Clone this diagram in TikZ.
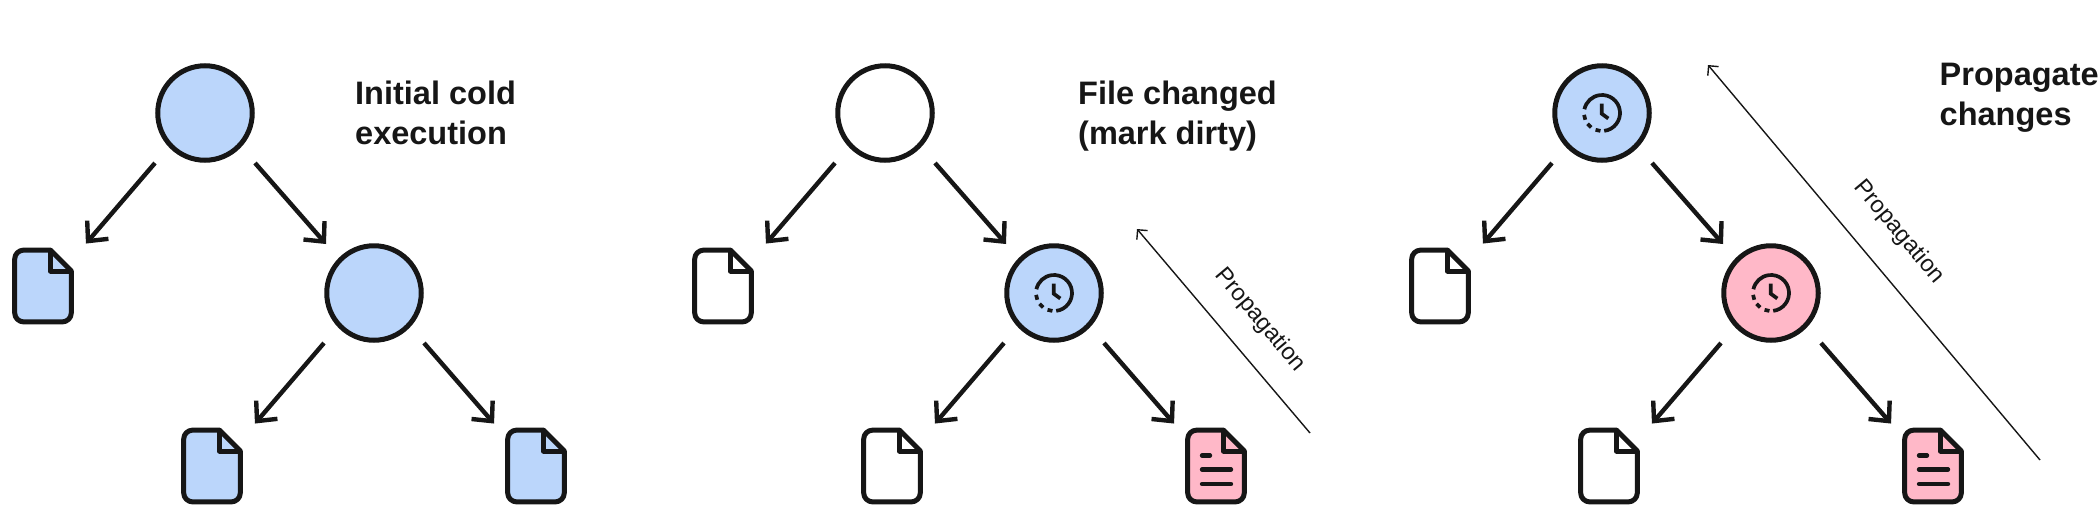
\documentclass[tikz,border=0pt]{standalone}
\usepackage{fontspec}
\setmainfont{Liberation Sans}
\usetikzlibrary{arrows.meta}
\definecolor{inkblack}{HTML}{161616}
\definecolor{cacheblue}{HTML}{BBD6FB}
\definecolor{dirtypink}{HTML}{FFB8C8}
\tikzset{
	taskcirc/.style={circle, draw=inkblack, line width=5pt, minimum size=94.5pt, inner sep=0pt},
	edge/.style={draw=inkblack, line width=4.4pt, -{Straight Barb[length=15pt, width=28pt]}},
	propline/.style={draw=inkblack, line width=1.4pt, -{Straight Barb[length=7pt, width=14pt]}},
	proplabel/.style={text=inkblack, font=\fontsize{23.5}{27}\selectfont, rotate=-50, inner sep=0pt},
	heading/.style={text=inkblack, font=\bfseries\fontsize{32.5}{40}\selectfont, align=left, anchor=north west, inner sep=0pt},
	filedoc/.pic={
		\node[minimum width=61.5pt, minimum height=76.5pt, inner sep=0pt] (-box) at (0, 0) {};
		\path[draw=inkblack, line width=5pt, line join=round, pic actions] (7.5, -35.9) [rounded corners=9pt] -- (-28.3, -35.9) -- (-28.3, 35.9) -- (28.3, 35.9) [sharp corners] -- (28.3, -15) -- cycle;
		\draw[inkblack, line width=5pt, line join=round] (7.5, -35.9) -- (7.5, -15) -- (28.3, -15);
	},
	doclines/.pic={
		\draw[inkblack, line width=4.4pt, line cap=round] (-14, -10.5) -- (-6, -10.5);
		\draw[inkblack, line width=4.4pt, line cap=round] (-14, 3.5) -- (15, 3.5);
		\draw[inkblack, line width=4.4pt, line cap=round] (-14, 18) -- (15, 18);
	},
	clockface/.pic={
		\draw[inkblack, line width=3.7pt] (83:18) arc[start angle=83, end angle=-168, radius=18];
		\foreach \ang in {103, 135, 166} {
			\draw[inkblack, line width=3.7pt] (\ang-8:18) arc[start angle=\ang-8, end angle=\ang+8, radius=18];
		}
		\draw[inkblack, line width=3.7pt] (-0.3, -9.3) -- (-0.3, 0.7) -- (6.3, 5.5);
	}
}
\begin{document}
\begin{tikzpicture}[x=1pt, y=-1pt]
	\useasboundingbox (0, 0) rectangle (2099, 509);
	\clip (0, 0) rectangle (2099, 509);

	\node[taskcirc, fill=cacheblue] (a1) at (205, 113) {};
	\node[taskcirc, fill=cacheblue] (a2) at (374, 293) {};
	\pic[fill=cacheblue] (a3) at (43, 286) {filedoc};
	\pic[fill=cacheblue] (a4) at (212, 466) {filedoc};
	\pic[fill=cacheblue] (a5) at (536, 466) {filedoc};
	\node[heading] (ta) at (355, 81) {Initial cold\\execution};

	\node[taskcirc, fill=white] (b1) at (885, 113) {};
	\node[taskcirc, fill=cacheblue] (b2) at (1054, 293) {};
	\pic at (b2) {clockface};
	\pic[fill=white] (b3) at (723, 286) {filedoc};
	\pic[fill=white] (b4) at (892, 466) {filedoc};
	\pic[fill=dirtypink] (b5) at (1216, 466) {filedoc};
	\pic at (b5-box) {doclines};
	\node[heading] (tb) at (1078, 81) {File changed\\(mark dirty)};
	\coordinate (pb1) at (1310, 433);
	\coordinate (pb2) at (1137, 229);
	\draw[propline] (pb1) -- (pb2);
	\node[proplabel] (lb) at (1260, 320) {Propagation};

	\node[taskcirc, fill=cacheblue] (c1) at (1602, 113) {};
	\node[taskcirc, fill=dirtypink] (c2) at (1771, 293) {};
	\pic at (c1) {clockface};
	\pic at (c2) {clockface};
	\pic[fill=white] (c3) at (1440, 286) {filedoc};
	\pic[fill=white] (c4) at (1609, 466) {filedoc};
	\pic[fill=dirtypink] (c5) at (1933, 466) {filedoc};
	\pic at (c5-box) {doclines};
	\node[heading] (tc) at (1939.5, 63) {Propagate\\changes};
	\coordinate (pc1) at (2040, 460);
	\coordinate (pc2) at (1708, 65);
	\draw[propline] (pc1) -- (pc2);
	\node[proplabel] (lc) at (1899, 232) {Propagation};

	\foreach \p in {a, b, c} {
		\draw[edge] ([shift={(-50, 50)}]\p1.center) -- ([shift={(12, -4)}]\p3-box.north east);
		\draw[edge] ([shift={(50, 50)}]\p1.center) -- ([shift={(-48, -49)}]\p2.center);
		\draw[edge] ([shift={(-50, 50)}]\p2.center) -- ([shift={(12, -4)}]\p4-box.north east);
		\draw[edge] ([shift={(50, 50)}]\p2.center) -- ([shift={(-11, -4)}]\p5-box.north west);
	}
\end{tikzpicture}
\end{document}
